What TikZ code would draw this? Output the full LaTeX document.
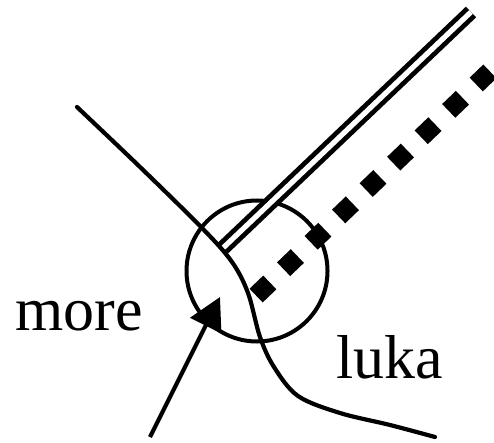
\documentclass[tikz,border=0pt]{standalone}
\usepackage{fontspec}
\setmainfont{Liberation Serif}
\usetikzlibrary{arrows.meta}
\tikzset{
  stroke/.style={line width=4.2pt, black},
  ring/.style={circle, draw, line width=4pt, minimum size=141pt, inner sep=0pt},
  rail/.style={double, line width=4.8pt, double distance=5.2pt, double=white},
  dots/.style={line width=19pt, dash pattern=on 19pt off 19.125pt},
  label/.style={anchor=base west, inner sep=0pt, font=\fontsize{62}{62}\selectfont}
}
\begin{document}
\begin{tikzpicture}[x=1pt,y=-1pt]
\useasboundingbox (0,0) rectangle (494,443);
\node[ring] (c) at (257,271) {};
% double rail
\coordinate (r1) at (223,248);
\coordinate (r2) at (471,12);
\draw[rail] (r1) -- (r2);
% dotted thick line
\coordinate (d1) at (256.1,295.6);
\coordinate (d2) at (489.9,71.4);
\draw[dots] (d1) -- (d2);
% curve
\draw[stroke, line cap=round] plot[smooth, tension=0.55] coordinates
  {(77,107) (140,167) (203,229) (232,262) (248,293) (260,337) (274,367) (298,396) (340,413) (390,425) (435,437)};
% arrow
\coordinate (a1) at (150,437);
\coordinate (a2) at (220,297);
\draw[stroke, -{Triangle[length=32pt,width=34pt]}] (a1) -- (a2);
% labels
\node[label] (more) at (15,330) {more};
\node[label] (luka) at (336,378) {luka};
\end{tikzpicture}
\end{document}
